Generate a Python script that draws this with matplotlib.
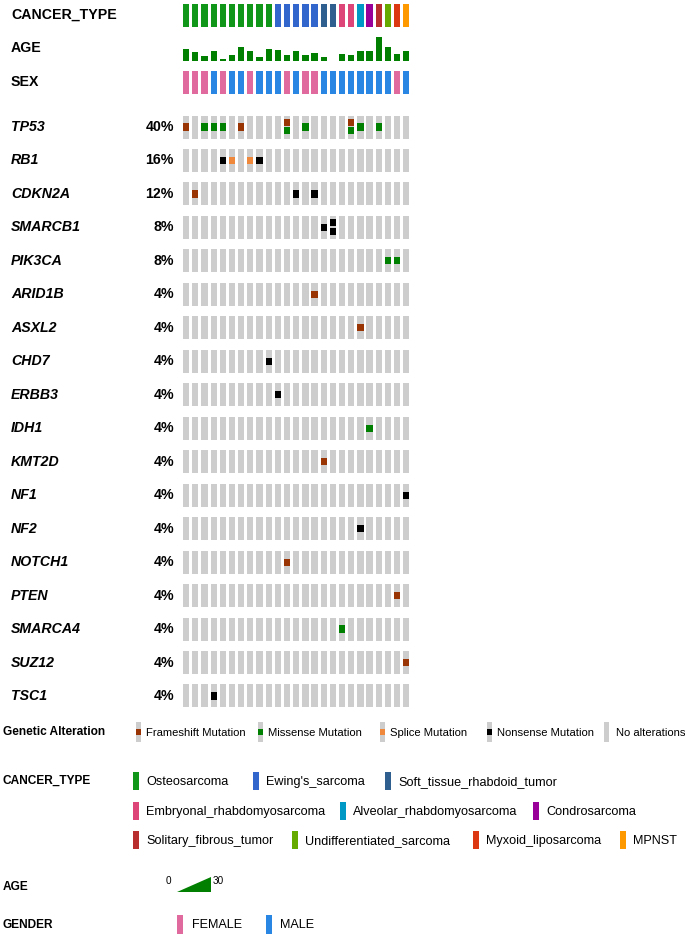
import matplotlib
matplotlib.use("Agg")
import matplotlib.pyplot as plt
from matplotlib.patches import Rectangle, Polygon

plt.rcParams['font.family'] = ['Liberation Sans', 'DejaVu Sans']

# ---- data ----
n_samples = 25
cancer_type = (["Osteosarcoma"] * 10 + ["Ewing's_sarcoma"] * 5 +
               ["Soft_tissue_rhabdoid_tumor"] * 2 + ["Embryonal_rhabdomyosarcoma"] * 2 +
               ["Alveolar_rhabdomyosarcoma", "Condrosarcoma", "Solitary_fibrous_tumor",
                "Undifferentiated_sarcoma", "Myxoid_liposarcoma", "MPNST"])
age = [15, 11, 6, 13, 2.5, 7.5, 17, 12.5, 5.5, 15, 14, 7.5, 13, 7, 10.5, 4.5,
       None, 8.5, 7, 13, 12, 30, 17, 9, 12]
sex = ["F", "F", "F", "M", "F", "M", "M", "F", "M", "M", "M", "F", "M", "F", "F",
       "M", "M", "M", "M", "M", "M", "M", "M", "F", "M"]

genes = ["TP53", "RB1", "CDKN2A", "SMARCB1", "PIK3CA", "ARID1B", "ASXL2", "CHD7",
         "ERBB3", "IDH1", "KMT2D", "NF1", "NF2", "NOTCH1", "PTEN", "SMARCA4",
         "SUZ12", "TSC1"]
# (gene, sample index, alteration type)
mutations = [
    ("TP53", 0, "Frameshift"), ("TP53", 2, "Missense"), ("TP53", 3, "Missense"),
    ("TP53", 4, "Missense"), ("TP53", 6, "Frameshift"), ("TP53", 11, "Frameshift"),
    ("TP53", 11, "Missense"), ("TP53", 13, "Missense"), ("TP53", 18, "Frameshift"),
    ("TP53", 18, "Missense"), ("TP53", 19, "Missense"), ("TP53", 21, "Missense"),
    ("RB1", 4, "Nonsense"), ("RB1", 5, "Splice"), ("RB1", 7, "Splice"), ("RB1", 8, "Nonsense"),
    ("CDKN2A", 1, "Frameshift"), ("CDKN2A", 12, "Nonsense"), ("CDKN2A", 14, "Nonsense"),
    ("SMARCB1", 15, "Nonsense"), ("SMARCB1", 16, "Nonsense"), ("SMARCB1", 16, "Nonsense"),
    ("PIK3CA", 22, "Missense"), ("PIK3CA", 23, "Missense"),
    ("ARID1B", 14, "Frameshift"),
    ("ASXL2", 19, "Frameshift"),
    ("CHD7", 9, "Nonsense"),
    ("ERBB3", 10, "Nonsense"),
    ("IDH1", 20, "Missense"),
    ("KMT2D", 15, "Frameshift"),
    ("NF1", 24, "Nonsense"),
    ("NF2", 19, "Nonsense"),
    ("NOTCH1", 11, "Frameshift"),
    ("PTEN", 23, "Frameshift"),
    ("SMARCA4", 17, "Missense"),
    ("SUZ12", 24, "Frameshift"),
    ("TSC1", 3, "Nonsense"),
]

cancer_names = ["Osteosarcoma", "Ewing's_sarcoma", "Soft_tissue_rhabdoid_tumor",
                "Embryonal_rhabdomyosarcoma", "Alveolar_rhabdomyosarcoma", "Condrosarcoma",
                "Solitary_fibrous_tumor", "Undifferentiated_sarcoma", "Myxoid_liposarcoma", "MPNST"]
cancer_colors = ["#109618", "#3366CC", "#2F5F8F", "#DD4477", "#0099C6", "#990099",
                 "#B82E2E", "#66AA00", "#DC3912", "#FF9900"]
alt_names = ["Frameshift", "Missense", "Splice", "Nonsense"]
alt_labels = ["Frameshift Mutation", "Missense Mutation", "Splice Mutation",
              "Nonsense Mutation", "No alterations"]
alt_colors = ["#993404", "#008000", "#F0883B", "#000000"]
sex_colors = {"F": "#E0699E", "M": "#2986E2"}
gray = "#CDCDCD"
age_col = "#007F00"
age_max = 30

# ---- layout (pixels) ----
fig = plt.figure(figsize=(6.85, 9.34), dpi=100)
ax = fig.add_axes([0, 0, 1, 1])
ax.set_xlim(0, 685)
ax.set_ylim(934, 0)
ax.axis('off')

x0, dx, cw = 183.0, 9.17, 6.3
row0, drow, ch = 127.0, 33.47, 23.0
lab_fs = 10.2


def col_x(k):
    return x0 + k * dx


# top tracks
ax.text(11, 15, "CANCER_TYPE", fontsize=lab_fs, fontweight='bold', va='center')
ax.text(11, 48, "AGE", fontsize=lab_fs, fontweight='bold', va='center')
ax.text(11, 82, "SEX", fontsize=lab_fs, fontweight='bold', va='center')
for k in range(n_samples):
    c = cancer_colors[cancer_names.index(cancer_type[k])]
    ax.add_patch(Rectangle((col_x(k), 4), cw, 23, color=c, lw=0))
    if age[k] is not None:
        h = 24 * age[k] / age_max
        ax.add_patch(Rectangle((col_x(k), 61 - h), cw, h, color=age_col, lw=0))
    ax.add_patch(Rectangle((col_x(k), 70.5), cw, 23.5, color=sex_colors[sex[k]], lw=0))

# gene rows
for i, g in enumerate(genes):
    yc = row0 + i * drow
    muts = [(s, t) for gg, s, t in mutations if gg == g]
    altered = len(set(s for s, t in muts))
    ax.text(11, yc, g, fontsize=lab_fs, fontweight='bold', fontstyle='italic', va='center')
    ax.text(174, yc, "%d%%" % round(100 * altered / n_samples), fontsize=lab_fs,
            fontweight='bold', va='center', ha='right')
    for k in range(n_samples):
        ax.add_patch(Rectangle((col_x(k), yc - ch / 2), cw, ch, color=gray, lw=0))
    for k in range(n_samples):
        here = [t for s, t in muts if s == k]
        if len(here) == 1:
            ax.add_patch(Rectangle((col_x(k), yc - 3.6), cw, 7.2,
                                   color=alt_colors[alt_names.index(here[0])], lw=0))
        elif len(here) == 2:
            ax.add_patch(Rectangle((col_x(k), yc - 8.2), cw, 7.2,
                                   color=alt_colors[alt_names.index(here[0])], lw=0))
            ax.add_patch(Rectangle((col_x(k), yc + 0.2), cw, 7.2,
                                   color=alt_colors[alt_names.index(here[1])], lw=0))

# legend: genetic alteration
leg_fs = 8.6
ax.text(3, 732, "Genetic Alteration", fontsize=leg_fs, fontweight='bold', va='center')
alt_x = [136, 258, 380, 487, 604]
for j, lab in enumerate(alt_labels):
    bx = alt_x[j]
    ax.add_patch(Rectangle((bx, 722), 5, 20, color=gray, lw=0))
    if j < len(alt_colors):
        ax.add_patch(Rectangle((bx, 728.5), 5, 6, color=alt_colors[j], lw=0))
    ax.text(bx + (12 if j == 4 else 10), 733, lab, fontsize=8.1, va='center')

# legend: cancer type
ax.text(3, 781, "CANCER_TYPE", fontsize=leg_fs, fontweight='bold', va='center')
ct_pos = [(133, 781), (253, 781), (385, 781),
          (133, 811), (340, 811), (533, 811),
          (133, 840), (292, 840), (473, 840), (620, 840)]
for j, name in enumerate(cancer_names):
    bx, by = ct_pos[j]
    ax.add_patch(Rectangle((bx, by - 9), 6, 18, color=cancer_colors[j], lw=0))
    ax.text(bx + 13, by + 1, name, fontsize=9.1, va='center')

# legend: age
ax.text(3, 887, "AGE", fontsize=leg_fs, fontweight='bold', va='center')
ax.text(166, 881, "0", fontsize=7.2, va='center')
ax.add_patch(Polygon([(177, 892), (211, 892), (211, 877)], closed=True, color=age_col, lw=0))
ax.text(213, 881, str(age_max), fontsize=7.2, va='center')

# legend: gender
ax.text(3, 925, "GENDER", fontsize=leg_fs, fontweight='bold', va='center')
ax.add_patch(Rectangle((177, 915), 6, 20, color=sex_colors["F"], lw=0))
ax.text(192, 925, "FEMALE", fontsize=9.1, va='center')
ax.add_patch(Rectangle((266, 915), 6, 20, color=sex_colors["M"], lw=0))
ax.text(280, 925, "MALE", fontsize=9.1, va='center')

plt.savefig("out.png", dpi=100)
plt.close("all")
